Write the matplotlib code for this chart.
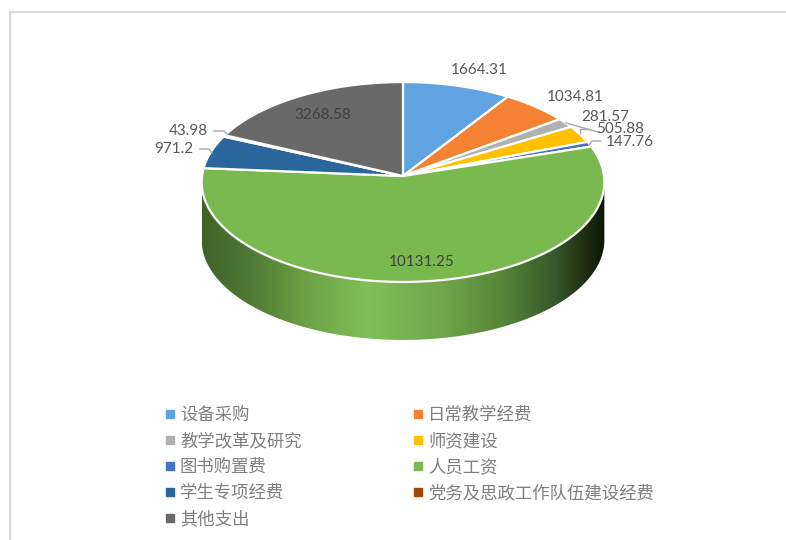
import numpy as np
from matplotlib import pyplot as plt
from matplotlib.colors import LinearSegmentedColormap
from matplotlib.lines import Line2D
from matplotlib.patches import Polygon

categories = ["设备采购", "日常教学经费", "教学改革及研究", "师资建设", "图书购置费",
              "人员工资", "学生专项经费", "党务及思政工作队伍建设经费", "其他支出"]
values = [1664.31, 1034.81, 281.57, 505.88, 147.76, 10131.25, 971.2, 43.98, 3268.58]
value_labels = ["1664.31", "1034.81", "281.57", "505.88", "147.76",
                "10131.25", "971.2", "43.98", "3268.58"]
colors = ["#5FA3E0", "#F58232", "#B0B0B0", "#FFC000", "#4472C4",
          "#7AB850", "#2A659C", "#9E480E", "#696969"]

# label centres in picture pixels
label_pos = [(479, 70), (575, 97), (605, 117), (620, 129), (630, 142),
             (422, 262), (174, 149), (188, 131), (323, 115)]
leaders = {
    2: [(566, 123), (598, 132)],
    3: [(580, 133), (580, 129), (590, 129)],
    4: [(589, 145), (592, 141), (601, 141)],
    6: [(200, 149), (209, 149), (212, 153)],
    7: [(214, 131), (224, 131), (227, 134)],
}

# pie geometry, perspective fitted to the picture
cx, cy = 403, 176
rx, ry = 201, 99.6
persp = 0.06
depth = 58


def rim(theta):
    u, v = np.sin(theta), -np.cos(theta)
    w = 1 - persp * v
    return cx + rx * u / w, cy + ry * v / w


fig = plt.figure(figsize=(7.86, 5.40), dpi=100)
ax = fig.add_axes([0, 0, 1, 1])
ax.set_xlim(0, 786)
ax.set_ylim(540, 0)
ax.axis("off")

# outer chart frame
ax.plot([10, 10, 786], [540, 12, 12], color="#D9D9D9", lw=1.5, zorder=1)

# side of the pie
t0 = np.arccos(-persp)
side_t = np.linspace(t0, 2 * np.pi - t0, 200)
sx, sy = rim(side_t)
side_xy = np.column_stack([np.r_[sx, sx[::-1]], np.r_[sy, sy[::-1] + depth]])
side_cmap = LinearSegmentedColormap.from_list("side", [
    (0.00, "#3F6429"), (0.10, "#4B7531"), (0.25, "#6BA044"), (0.41, "#80C057"),
    (0.60, "#6FA64A"), (0.75, "#568439"), (0.88, "#37562A"), (0.95, "#1F3113"),
    (1.00, "#0D1607")])
side_img = ax.imshow(np.linspace(0, 1, 400)[None, :], cmap=side_cmap, aspect="auto",
                     extent=[sx.min(), sx.max(), sy.max() + depth, sy.min()], zorder=2)
side_patch = Polygon(side_xy, closed=True, transform=ax.transData, fc="none", ec="none")
ax.add_patch(side_patch)
side_img.set_clip_path(side_patch)
ax.set_xlim(0, 786)
ax.set_ylim(540, 0)

# top face
edges = np.r_[0, np.cumsum(values)] / np.sum(values) * 2 * np.pi
for i in range(len(values)):
    t = np.linspace(edges[i], edges[i + 1], 120)
    x, y = rim(t)
    xy = np.column_stack([np.r_[cx, x], np.r_[cy, y]])
    ax.add_patch(Polygon(xy, closed=True, fc=colors[i], ec="white", lw=1.6,
                         joinstyle="round", zorder=3))

# value labels
for i, (lx, ly) in enumerate(label_pos):
    inside = i in (5, 8)
    ax.text(lx, ly, value_labels[i], ha="center", va="center", fontsize=11,
            family=["Lato", "DejaVu Sans"], color="#404040" if inside else "#595959",
            zorder=5)
for pts in leaders.values():
    ax.plot(*zip(*pts), color="#A6A6A6", lw=1, zorder=4)

# legend, filled row by row in the picture
order = [0, 2, 4, 6, 8, 1, 3, 5, 7]
handles = [Line2D([], [], ls="none", marker="s", ms=5.5, color=colors[i], label=categories[i])
           for i in order]
ax.legend(handles=handles, ncol=2, loc="upper left", bbox_to_anchor=(160, 406),
          bbox_transform=ax.transData, frameon=False,
          prop={"family": ["Noto Sans CJK SC", "DejaVu Sans"], "size": 12.5, "weight": "light"},
          labelcolor="#7F7F7F", handletextpad=0.0, handlelength=1.15, labelspacing=0.46,
          columnspacing=6.15, borderpad=0, borderaxespad=0)

plt.savefig("out.png", dpi=100)
